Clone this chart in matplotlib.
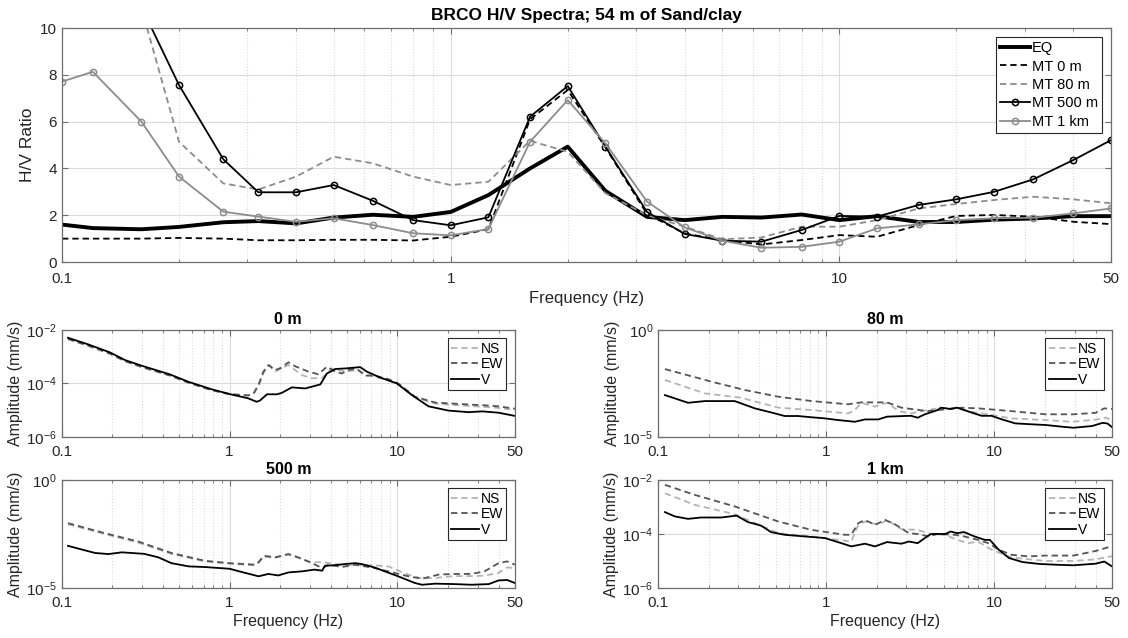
import numpy as np
import matplotlib
matplotlib.use("Agg")
from matplotlib import pyplot as plt
from matplotlib.ticker import FixedLocator, NullLocator, FixedFormatter

plt.rcParams['font.family'] = ['Liberation Sans', 'DejaVu Sans']
plt.rcParams['mathtext.default'] = 'regular'

# H/V spectra (top)
freq = [0.1, 0.12, 0.16, 0.2, 0.26, 0.32, 0.4, 0.5, 0.63, 0.8, 1, 1.25, 1.6, 2, 2.5,
        3.2, 4, 5, 6.3, 8, 10, 12.5, 16, 20, 25, 31.5, 40, 50]
hv_eq = [1.6, 1.45, 1.4, 1.5, 1.7, 1.75, 1.65, 1.9, 2.02, 1.93, 2.14, 2.86, 4.0, 4.93, 3.04,
         1.93, 1.79, 1.93, 1.9, 2.03, 1.79, 1.96, 1.71, 1.71, 1.81, 1.86, 1.96, 1.96]
hv_0m = [1.0, 1.0, 1.0, 1.03, 1.0, 0.93, 0.93, 0.95, 0.95, 0.92, 1.08, 1.4, 6.1, 7.35, 4.9,
         2.05, 1.22, 0.94, 0.75, 0.94, 1.15, 1.08, 1.58, 1.97, 2.01, 1.94, 1.72, 1.62]
hv_80m = [np.nan, np.nan, 10.86, 5.14, 3.36, 3.1, 3.65, 4.5, 4.22, 3.65, 3.29, 3.43, 5.18, 4.71, 2.94,
          2.0, 1.51, 0.97, 1.05, 1.51, 1.51, 1.79, 2.29, 2.48, 2.65, 2.79, 2.68, 2.51]
hv_500m = [np.nan, np.nan, 10.9, 7.56, 4.39, 2.98, 2.98, 3.29, 2.62, 1.79, 1.57, 1.91, 6.21, 7.52, 4.93,
           2.14, 1.2, 0.91, 0.87, 1.37, 1.97, 1.94, 2.44, 2.68, 3.0, 3.53, 4.36, 5.21]
hv_1km = [7.71, 8.13, 6.0, 3.65, 2.15, 1.94, 1.72, 1.87, 1.58, 1.23, 1.14, 1.41, 5.14, 6.92, 5.07,
          2.58, 1.48, 0.91, 0.61, 0.65, 0.87, 1.44, 1.61, 1.79, 1.87, 1.89, 2.08, 2.29]

# amplitude spectra (log10 mm/s)
f0_v = [0.109, 0.144, 0.194, 0.238, 0.3, 0.44, 0.568, 0.78, 1.0, 1.29, 1.45, 1.52, 1.67, 1.91, 2.04,
        2.35, 2.82, 3.47, 3.8, 4.27, 4.9, 6.0, 6.57, 7.88, 9.9, 12.2, 15.3, 20.1, 26.5, 32, 40, 50]
a0_v = [-2.29, -2.54, -2.84, -3.125, -3.34, -3.66, -3.94, -4.22, -4.4, -4.56, -4.69, -4.64, -4.41,
        -4.41, -4.36, -4.15, -4.19, -4.04, -3.63, -3.46, -3.44, -3.39, -3.56, -3.78, -4.0, -4.44,
        -4.86, -5.02, -5.08, -5.05, -5.1, -5.22]
f0_ew = [0.109, 0.144, 0.194, 0.238, 0.3, 0.44, 0.568, 0.78, 1.0, 1.29, 1.39, 1.49, 1.59, 1.71, 1.87,
         2.04, 2.24, 2.46, 2.95, 3.38, 3.8, 4.27, 4.66, 5.1, 5.7, 6.4, 7.3, 8.8, 10.1, 12.7, 16.8,
         21.8, 27.6, 32.5, 40, 50]
a0_ew = [-2.33, -2.58, -2.88, -3.16, -3.38, -3.7, -3.97, -4.25, -4.4, -4.45, -4.375, -4.04, -3.56,
         -3.31, -3.5, -3.41, -3.21, -3.36, -3.56, -3.66, -3.375, -3.56, -3.63, -3.5, -3.44, -3.71,
         -3.71, -3.84, -4.0, -4.5, -4.72, -4.76, -4.8, -4.82, -4.86, -4.95]
f0_ns = [0.109, 0.144, 0.194, 0.238, 0.3, 0.44, 0.568, 0.78, 1.0, 1.29, 1.39, 1.49, 1.59, 1.71, 1.87,
         2.24, 2.7, 3.1, 3.56, 4.06, 4.9, 5.8, 6.7, 8.8, 10.1, 12.7, 16.8, 21.8, 27.6, 32.5, 40, 50]
a0_ns = [-2.35, -2.6, -2.9, -3.17, -3.4, -3.71, -3.98, -4.26, -4.42, -4.46, -4.4, -4.1, -3.62, -3.33,
         -3.56, -3.31, -3.69, -3.81, -3.79, -3.44, -3.56, -3.5, -3.69, -3.88, -4.02, -4.52, -4.76,
         -4.81, -4.85, -4.88, -4.92, -5.0]

f80_v = [0.11, 0.151, 0.19, 0.286, 0.376, 0.47, 0.566, 0.68, 0.82, 0.98, 1.18, 1.48, 1.7, 2.04, 2.3,
         2.9, 3.2, 3.5, 3.86, 4.6, 4.8, 5.5, 6.0, 6.6, 7.6, 8.4, 9.6, 11.1, 13.3, 16.7, 20.1, 25.2,
         29.5, 38, 44, 47, 50]
a80_v = [-3.05, -3.41, -3.33, -3.33, -3.67, -3.86, -4.03, -4.03, -4.09, -4.14, -4.22, -4.3, -4.19,
         -4.19, -4.06, -4.03, -4.02, -4.11, -3.95, -3.75, -3.64, -3.7, -3.64, -3.75, -3.91, -4.02,
         -4.02, -4.19, -4.375, -4.42, -4.45, -4.53, -4.58, -4.5, -4.35, -4.38, -4.55]
f80_ew = [0.11, 0.208, 0.328, 0.52, 0.82, 1.35, 1.62, 2.04, 2.3, 2.8, 4.0, 6.3, 8.0, 12.6, 20, 29.5,
          40, 45, 50]
a80_ew = [-1.83, -2.42, -2.81, -3.125, -3.33, -3.48, -3.39, -3.39, -3.39, -3.64, -3.8, -3.64, -3.67,
          -3.8, -3.95, -3.95, -3.88, -3.67, -3.7]
f80_ns = [0.11, 0.19, 0.31, 0.52, 0.82, 1.35, 1.48, 1.62, 1.95, 2.3, 2.7, 3.2, 3.7, 4.6, 6.0, 7.3, 9.6,
          12.6, 20, 29, 40, 46, 50]
a80_ns = [-2.34, -2.97, -3.17, -3.64, -3.75, -3.91, -3.75, -3.41, -3.59, -3.41, -3.8, -3.91, -3.8,
          -3.67, -3.64, -3.83, -3.98, -4.14, -4.22, -4.3, -4.2, -4.1, -4.25]

f500_v = [0.109, 0.158, 0.19, 0.228, 0.31, 0.376, 0.45, 0.57, 0.71, 1.0, 1.18, 1.49, 1.7, 1.95, 2.24,
          2.7, 3.2, 3.56, 3.7, 4.2, 4.9, 5.6, 6.1, 7.3, 8.4, 10.1, 12.7, 14, 16.8, 21.8, 27.6, 35,
          40, 45, 50]
a500_v = [-3.05, -3.38, -3.43, -3.35, -3.42, -3.58, -3.85, -4.0, -4.03, -4.11, -4.26, -4.46, -4.35,
          -4.42, -4.28, -4.23, -4.15, -4.2, -3.97, -3.95, -3.89, -3.85, -3.89, -4.05, -4.23, -4.46,
          -4.77, -4.85, -4.8, -4.82, -4.85, -4.82, -4.65, -4.63, -4.77]
f500_ew = [0.109, 0.18, 0.286, 0.45, 0.71, 1.0, 1.42, 1.49, 1.6, 1.87, 2.24, 2.56, 3.1, 3.56, 3.9,
           4.66, 5.6, 7.3, 8.8, 11.6, 14, 17.6, 21.8, 27.6, 33, 40, 45, 50]
a500_ew = [-2.0, -2.46, -2.85, -3.38, -3.74, -3.85, -3.92, -3.8, -3.51, -3.58, -3.43, -3.58, -3.85,
           -4.08, -3.92, -4.03, -3.92, -4.08, -4.23, -4.46, -4.57, -4.38, -4.35, -4.35, -4.23, -3.85,
           -3.77, -3.92]
f500_ns = [0.109, 0.18, 0.286, 0.45, 0.71, 1.0, 1.42, 1.49, 1.6, 1.87, 2.24, 2.56, 3.1, 3.56, 3.9,
           5.0, 7.3, 8.8, 11.6, 14, 17.6, 21.8, 27.6, 33, 40, 45, 50]
a500_ns = [-2.05, -2.5, -2.9, -3.42, -3.77, -3.88, -3.95, -3.83, -3.55, -3.6, -3.45, -3.6, -3.82,
           -3.8, -3.85, -3.95, -3.95, -4.0, -4.38, -4.57, -4.52, -4.45, -4.45, -4.43, -4.3, -4.05, -4.08]

f1k_v = [0.11, 0.126, 0.151, 0.18, 0.238, 0.293, 0.343, 0.41, 0.47, 0.566, 0.74, 0.98, 1.23, 1.41,
         1.7, 1.95, 2.3, 2.8, 3.1, 3.5, 3.86, 4.2, 5.1, 5.5, 6.0, 6.6, 7.6, 8.8, 9.4, 10.6, 12.2,
         14.7, 18.5, 23.4, 29.5, 40, 45, 50]
a1k_v = [-3.19, -3.35, -3.44, -3.39, -3.39, -3.32, -3.56, -3.69, -3.93, -4.03, -4.09, -4.15, -4.34,
         -4.46, -4.36, -4.46, -4.3, -4.36, -4.28, -4.34, -4.15, -4.0, -4.0, -3.91, -3.97, -3.93,
         -4.09, -4.22, -4.22, -4.58, -4.89, -5.04, -5.11, -5.14, -5.16, -5.1, -5.02, -5.2]
f1k_ew = [0.11, 0.165, 0.286, 0.52, 0.82, 1.29, 1.41, 1.55, 1.7, 1.95, 2.24, 2.56, 3.1, 3.5, 4.05,
          4.6, 5.8, 6.6, 8.0, 9.2, 10.6, 12.6, 16, 20, 29.5, 40, 50]
a1k_ew = [-2.18, -2.55, -2.98, -3.54, -3.85, -4.03, -4.03, -3.6, -3.48, -3.66, -3.48, -3.64, -3.97,
          -4.0, -4.09, -4.0, -4.03, -4.09, -4.22, -4.34, -4.58, -4.77, -4.83, -4.8, -4.8, -4.63, -4.45]
f1k_ns = [0.11, 0.165, 0.286, 0.52, 0.82, 1.41, 1.55, 1.7, 2.04, 2.3, 2.8, 3.5, 4.2, 5.1, 6.0, 7.0,
          8.0, 9.6, 12.6, 20, 29.5, 40, 50]
a1k_ns = [-2.49, -2.92, -3.27, -3.97, -4.09, -4.28, -3.66, -3.54, -3.66, -3.48, -3.82, -3.85, -4.0,
          -4.03, -4.22, -4.34, -4.28, -4.58, -4.87, -5.0, -5.0, -4.94, -4.82]

xticks = [0.1, 1, 10, 50]
xticklabels = ['0.1', '1', '10', '50']
minor_x = [0.2, 0.3, 0.4, 0.5, 0.6, 0.7, 0.8, 0.9, 2, 3, 4, 5, 6, 7, 8, 9, 20, 30, 40]

FRAME = '#6e6e6e'
GRID = '#dcdcdc'
TXT = '#262626'


def style_axes(ax, tick_size, xpad):
    ax.set_xscale('log')
    ax.set_xlim(0.1, 50)
    ax.xaxis.set_major_locator(FixedLocator(xticks))
    ax.xaxis.set_major_formatter(FixedFormatter(xticklabels))
    ax.xaxis.set_minor_locator(FixedLocator(minor_x))
    ax.tick_params(which='both', direction='in', top=True, right=True, colors=FRAME,
                   labelcolor=TXT, labelsize=tick_size)
    ax.tick_params(axis='x', which='major', pad=xpad)
    ax.tick_params(which='major', length=4)
    ax.tick_params(which='minor', length=2.5)
    ax.grid(True, which='major', color=GRID, lw=0.8, ls='-')
    ax.grid(True, which='minor', axis='x', color=GRID, lw=0.8, ls=':')
    ax.set_axisbelow(True)
    for s in ax.spines.values():
        s.set_color(FRAME)
        s.set_linewidth(0.9)


fig = plt.figure(figsize=(11.28, 6.38), dpi=100)

# top: H/V ratio
ax = fig.add_axes([0.055, 0.5893, 0.930, 0.3668])
ax.plot(freq, hv_eq, color='black', lw=2.8, label='EQ')
ax.plot(freq, hv_0m, color='black', lw=1.3, ls='--', dashes=(3.5, 2.2), label='MT 0 m')
ax.plot(freq, hv_80m, color='#8c8c8c', lw=1.3, ls='--', dashes=(3.5, 2.2), label='MT 80 m')
ax.plot(freq, hv_500m, color='black', lw=1.3, marker='o', ms=4.5, mfc='none', mew=1.1,
        label='MT 500 m')
ax.plot(freq, hv_1km, color='#8c8c8c', lw=1.3, marker='o', ms=4.5, mfc='none', mew=1.1,
        label='MT 1 km')
style_axes(ax, 11, 7)
ax.set_ylim(0, 10)
ax.set_yticks([0, 2, 4, 6, 8, 10])
ax.yaxis.set_minor_locator(NullLocator())
ax.set_ylabel('H/V Ratio', fontsize=12.5, color=TXT, labelpad=4)
ax.set_xlabel('Frequency (Hz)', fontsize=12, color=TXT, labelpad=4)
ax.set_title('BRCO H/V Spectra; 54 m of Sand/clay', fontsize=12.5, fontweight='bold', pad=6)
leg = ax.legend(loc='upper right', fontsize=10.5, frameon=True, fancybox=False,
                edgecolor=TXT, framealpha=1, borderpad=0.3, labelspacing=0.3,
                handlelength=2.0, handletextpad=0.15, borderaxespad=0.6)
leg.get_frame().set_linewidth(0.8)

# bottom: amplitude spectra
panels = [
    ('0 m', [0.0547, 0.3155, 0.4017, 0.1672], (-6, -2), [1e-6, 1e-4, 1e-2],
     (f0_ns, a0_ns), (f0_ew, a0_ew), (f0_v, a0_v), False),
    ('80 m', [0.5833, 0.3155, 0.4025, 0.1672], (-5, 0), [1e-5, 1e0],
     (f80_ns, a80_ns), (f80_ew, a80_ew), (f80_v, a80_v), False),
    ('500 m', [0.0547, 0.0784, 0.4017, 0.1693], (-5, 0), [1e-5, 1e0],
     (f500_ns, a500_ns), (f500_ew, a500_ew), (f500_v, a500_v), True),
    ('1 km', [0.5833, 0.0784, 0.4025, 0.1693], (-6, -2), [1e-6, 1e-4, 1e-2],
     (f1k_ns, a1k_ns), (f1k_ew, a1k_ew), (f1k_v, a1k_v), True),
]

for title, pos, ylim, yt, ns, ew, v, xlab in panels:
    a = fig.add_axes(pos)
    a.plot(ns[0], 10.0 ** np.array(ns[1]), color='#b4b4b4', lw=1.3, ls='--', dashes=(3.5, 2.2),
           label='NS')
    a.plot(ew[0], 10.0 ** np.array(ew[1]), color='#555555', lw=1.3, ls='--', dashes=(3.5, 2.2),
           label='EW')
    a.plot(v[0], 10.0 ** np.array(v[1]), color='black', lw=1.3, label='V')
    a.set_yscale('log')
    style_axes(a, 11, 6)
    a.set_ylim(10.0 ** ylim[0], 10.0 ** ylim[1])
    a.yaxis.set_major_locator(FixedLocator(yt))
    a.yaxis.set_minor_locator(NullLocator())
    a.set_ylabel('Amplitude (mm/s)', fontsize=11.5, color=TXT, labelpad=2)
    a.set_title(title, fontsize=11.5, fontweight='bold', pad=4)
    if xlab:
        a.set_xlabel('Frequency (Hz)', fontsize=11.5, color=TXT, labelpad=3)
    lg = a.legend(loc='upper right', fontsize=10, frameon=True, fancybox=False,
                  edgecolor=TXT, framealpha=1, borderpad=0.25, labelspacing=0.1,
                  handlelength=2.0, handletextpad=0.1, borderaxespad=0.6)
    lg.get_frame().set_linewidth(0.8)

fig.savefig('out.png', dpi=100)
